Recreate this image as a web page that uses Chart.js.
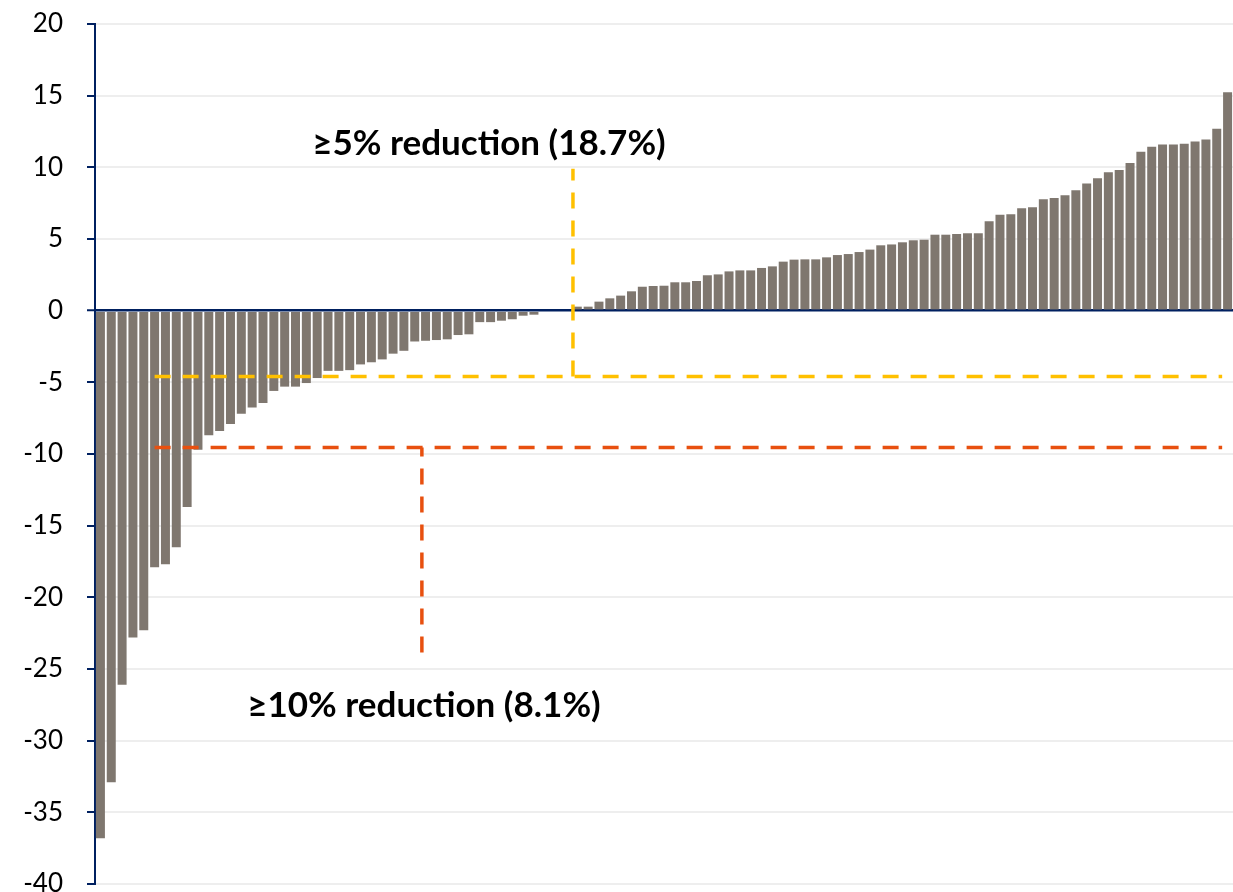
<!DOCTYPE html>
<html>
<head>
<meta charset="utf-8">
<script src="https://cdn.jsdelivr.net/npm/chart.js@4.4.1/dist/chart.umd.min.js"></script>
<style>
  html, body { margin: 0; padding: 0; background: #ffffff; overflow: hidden; }
  #wrap { width: 1233px; height: 892px; }
</style>
</head>
<body>
<div id="wrap"><canvas id="chart" width="1233" height="892"></canvas></div>
<script>
// Per-subject change values, sorted from largest reduction to largest increase
const changes = [
  -36.8, -32.9, -26.1, -22.8, -22.3, -17.9, -17.7, -16.5, -13.7, -9.7,
  -8.7, -8.4, -7.9, -7.2, -6.75, -6.45, -5.6, -5.3, -5.3, -5.05,
  -4.7, -4.2, -4.2, -4.15, -3.75, -3.6, -3.4, -3.0, -2.8, -2.15,
  -2.1, -2.05, -2.0, -1.7, -1.65, -0.8, -0.8, -0.7, -0.6, -0.35,
  -0.28, 0, 0, 0, 0.28, 0.28, 0.63, 0.86, 1.05, 1.35,
  1.67, 1.72, 1.74, 1.98, 1.98, 2.07, 2.47, 2.53, 2.74, 2.81,
  2.81, 2.98, 3.09, 3.42, 3.56, 3.58, 3.58, 3.72, 3.88, 3.95,
  4.09, 4.26, 4.56, 4.62, 4.77, 4.91, 4.95, 5.30, 5.30, 5.35,
  5.40, 5.40, 6.23, 6.70, 6.72, 7.14, 7.21, 7.77, 7.86, 8.05,
  8.40, 8.88, 9.23, 9.65, 9.81, 10.30, 11.09, 11.44, 11.60, 11.60,
  11.65, 11.81, 11.95, 12.70, 15.23
];
const categories = changes.map((_, i) => String(i + 1));

// Value axis
const yRange = [-40, 20];
const yStep = 5;

// Threshold guides (x in bar-index units, y in axis units)
const fivePctLineX = [5, 103.5];
const fivePctLevel = -4.6;
const fivePctMarkerX = 43.6;
const fivePctMarkerY = [-4.6, 9.9];

const tenPctLineX = [5, 103.5];
const tenPctLevel = -9.55;
const tenPctMarkerX = 29.66;
const tenPctMarkerY = [-23.85, -9.55];

// Threshold captions
const labelTexts = ['≥5% reduction (18.7%)', '≥10% reduction (8.1%)'];
const labelX = [35.85, 29.85];
const labelY = [11.65, -27.56];

const NAVY = '#002060';
const YELLOW = '#FFC000';
const ORANGE = '#E8500F';

function guide(points, color) {
  return {
    type: 'line',
    xAxisID: 'xl',
    data: points,
    borderColor: color,
    borderWidth: 3.5,
    borderDash: [16, 12],
    pointRadius: 0,
    fill: false,
    tension: 0,
    order: 0
  };
}

const captionPlugin = {
  id: 'thresholdCaptions',
  afterDatasetsDraw(chart) {
    const { ctx, scales } = chart;
    ctx.save();
    ctx.font = 'bold 35px Lato';
    ctx.fillStyle = '#000000';
    ctx.textAlign = 'center';
    ctx.textBaseline = 'middle';
    labelTexts.forEach((t, i) => {
      ctx.fillText(t, scales.xl.getPixelForValue(labelX[i]), scales.y.getPixelForValue(labelY[i]));
    });
    ctx.restore();
  }
};

new Chart(document.getElementById('chart'), {
  type: 'bar',
  data: {
    labels: categories,
    datasets: [
      {
        type: 'bar',
        xAxisID: 'x',
        data: changes,
        backgroundColor: '#7f776f',
        borderWidth: 0,
        grouped: false,
        barPercentage: 0.83,
        categoryPercentage: 1.0,
        order: 1
      },
      guide([{ x: fivePctLineX[0], y: fivePctLevel }, { x: fivePctLineX[1], y: fivePctLevel }], YELLOW),
      guide([{ x: fivePctMarkerX, y: fivePctMarkerY[0] }, { x: fivePctMarkerX, y: fivePctMarkerY[1] }], YELLOW),
      guide([{ x: tenPctLineX[0], y: tenPctLevel }, { x: tenPctLineX[1], y: tenPctLevel }], ORANGE),
      guide([{ x: tenPctMarkerX, y: tenPctMarkerY[0] }, { x: tenPctMarkerX, y: tenPctMarkerY[1] }], ORANGE)
    ]
  },
  options: {
    responsive: false,
    devicePixelRatio: 1,
    animation: false,
    layout: { padding: { left: 0, right: 0, top: 24, bottom: 8 } },
    plugins: { legend: { display: false }, tooltip: { enabled: false } },
    scales: {
      x: { type: 'category', display: false, offset: true },
      xl: { type: 'linear', display: false, min: -0.5, max: changes.length - 0.5, offset: false },
      y: {
        min: yRange[0],
        max: yRange[1],
        ticks: {
          stepSize: yStep,
          color: '#000000',
          font: { family: 'Lato', size: 26 },
          padding: 24
        },
        border: { display: true, color: NAVY, width: 2 },
        grid: {
          color: c => (c.tick && c.tick.value === 0 ? NAVY : '#eeeeee'),
          lineWidth: c => (c.tick && c.tick.value === 0 ? 2.5 : 2),
          tickColor: NAVY,
          tickLength: 8,
          tickWidth: 2,
          drawTicks: true
        },
        afterFit(scale) {
          scale.width = 95;
          scale.paddingTop = 0;
          scale.paddingBottom = 0;
        }
      }
    }
  },
  plugins: [captionPlugin]
});
</script>
</body>
</html>
